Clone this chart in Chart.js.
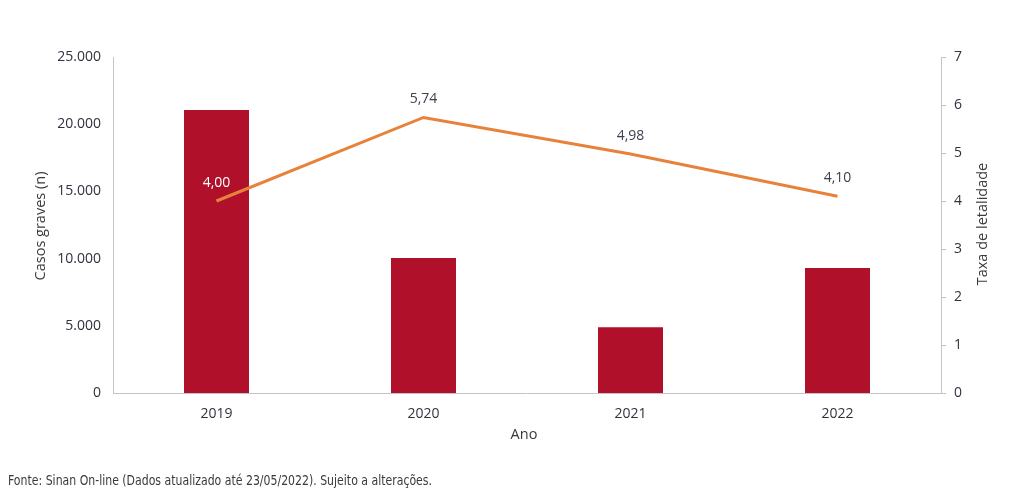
<!DOCTYPE html>
<html>
<head>
<meta charset="utf-8">
<script src="https://cdn.jsdelivr.net/npm/chart.js@4.4.1/dist/chart.umd.min.js"></script>
<style>
  html, body { margin: 0; padding: 0; background: #fff; }
  #wrap { position: relative; width: 1024px; height: 498px; overflow: hidden; }
  #c { position: absolute; left: 0; top: 0; }
  #foot { position: absolute; left: 8px; top: 472px; font-family: "Liberation Sans Narrow", "DejaVu Sans Condensed", sans-serif; font-size: 13.5px; color: #3a3a3a; white-space: nowrap; transform-origin: 0 0; }
</style>
</head>
<body>
<div id="wrap">
  <canvas id="c" width="1024" height="498"></canvas>
  <div id="foot">Fonte: Sinan On-line (Dados atualizado até 23/05/2022). Sujeito a alterações.</div>
</div>
<script>
const years = ["2019", "2020", "2021", "2022"];
const casosGraves = [21050, 10050, 4900, 9300];
const taxaLetalidade = [4.00, 5.74, 4.98, 4.10];
const leftTicks = [0, 5000, 10000, 15000, 20000, 25000];
const rightTicks = [0, 1, 2, 3, 4, 5, 6, 7];

const FONT = "'Open Sans', 'Noto Sans', sans-serif";
const TXT = "#30323e";
const AXIS = "#c4c4c4";

(function fitFooter() {
  const f = document.getElementById("foot");
  const w = f.getBoundingClientRect().width;
  if (w > 0) f.style.transform = "scaleX(" + (424 / w) + ")";
})();

function fmtBR(v) {
  return v.toString().replace(/\B(?=(\d{3})+(?!\d))/g, ".");
}

const labelsPlugin = {
  id: "customText",
  afterDatasetsDraw(chart) {
    const ctx = chart.ctx;
    const meta = chart.getDatasetMeta(1);
    ctx.save();
    ctx.font = "500 14px " + FONT;
    ctx.textAlign = "center";
    ctx.textBaseline = "middle";
    meta.data.forEach((pt, i) => {
      const v = taxaLetalidade[i];
      ctx.fillStyle = i === 0 ? "#ffffff" : "#3e4050";
      ctx.fillText(v.toFixed(2).replace(".", ","), pt.x, pt.y - 18);
    });
    ctx.restore();
  },
  afterDraw(chart) {
    const ctx = chart.ctx;
    const a = chart.chartArea;
    ctx.save();
    ctx.fillStyle = "#3a3a3a";
    ctx.font = "14.5px " + FONT;
    ctx.textAlign = "center";
    ctx.textBaseline = "middle";
    ctx.fillText("Ano", (a.left + a.right) / 2 - 3, 435);
    ctx.save();
    ctx.translate(41, (a.top + a.bottom) / 2 + 1);
    ctx.rotate(-Math.PI / 2);
    ctx.fillText("Casos graves (n)", 0, 0);
    ctx.restore();
    ctx.save();
    ctx.translate(983, (a.top + a.bottom) / 2 - 1);
    ctx.rotate(-Math.PI / 2);
    ctx.fillText("Taxa de letalidade", 0, 0);
    ctx.restore();
    ctx.restore();
  }
};

const tickFont = { family: FONT, size: 14, weight: "500" };

new Chart(document.getElementById("c"), {
  data: {
    labels: years,
    datasets: [
      {
        type: "bar",
        label: "Casos graves (n)",
        data: casosGraves,
        backgroundColor: "#b0102a",
        yAxisID: "y",
        barPercentage: 0.314,
        categoryPercentage: 1.0,
        order: 2
      },
      {
        type: "line",
        label: "Taxa de letalidade",
        data: taxaLetalidade,
        borderColor: "#e8823a",
        borderWidth: 3,
        pointRadius: 0,
        tension: 0,
        yAxisID: "y1",
        order: 1
      }
    ]
  },
  options: {
    responsive: false,
    animation: false,
    devicePixelRatio: 1,
    layout: { padding: { top: 57, left: 0, right: 0, bottom: 0 } },
    plugins: { legend: { display: false }, tooltip: { enabled: false } },
    scales: {
      x: {
        grid: { display: false },
        border: { display: true, color: AXIS, width: 1 },
        ticks: { color: TXT, font: tickFont, padding: 5 },
        afterFit(s) { s.height = 105; }
      },
      y: {
        position: "left",
        min: 0, max: 25000,
        afterBuildTicks(s) { s.ticks = leftTicks.map(v => ({ value: v })); },
        grid: { display: false },
        border: { display: true, color: AXIS, width: 1 },
        ticks: { color: TXT, font: tickFont, padding: 4, callback: v => fmtBR(v) },
        afterFit(s) { s.width = 113; }
      },
      y1: {
        position: "right",
        min: 0, max: 7,
        afterBuildTicks(s) { s.ticks = rightTicks.map(v => ({ value: v })); },
        grid: { display: true, drawOnChartArea: false, drawTicks: true, tickLength: 5, color: AXIS },
        border: { display: true, color: AXIS, width: 1 },
        ticks: { color: TXT, font: tickFont, padding: 8 },
        afterFit(s) { s.width = 83; }
      }
    }
  },
  plugins: [labelsPlugin]
});
</script>
</body>
</html>
